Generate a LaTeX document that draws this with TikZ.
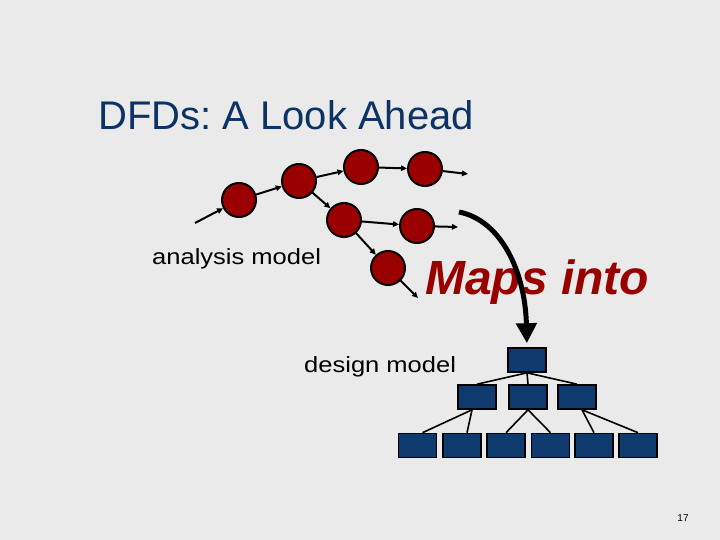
\documentclass[tikz,border=0pt]{standalone}
\usepackage{fontspec}
\setmainfont{Liberation Sans}
\usetikzlibrary{arrows.meta}
\frenchspacing
\definecolor{bgc}{HTML}{EAEAEA}
\definecolor{titleblue}{HTML}{0B3366}
\definecolor{boxblue}{HTML}{0F3A6E}
\definecolor{procred}{HTML}{9A0000}
\definecolor{mapred}{HTML}{990000}
\tikzset{
  proc/.style={circle, draw=black, line width=2bp, fill=procred, minimum size=34bp, inner sep=0pt},
  flow/.style={line width=2bp, -{Triangle[length=6bp,width=5.5bp]}},
  modbox/.style={rectangle, draw=black, line width=1.6bp, fill=boxblue, minimum width=38bp, minimum height=24bp, inner sep=0pt},
  tree/.style={line width=1.6bp},
  lbl/.style={anchor=base west, inner sep=0pt, font=\fontsize{22bp}{26bp}\selectfont}
}
\begin{document}
\begin{tikzpicture}[x=1bp,y=-1bp]
\useasboundingbox (0,0) rectangle (720,540);
\fill[bgc] (0,0) rectangle (720,540);

% title
\node[anchor=base west, inner sep=0pt, text=titleblue, font=\fontsize{40bp}{48bp}\selectfont] (title) at (98,130) {DFDs: A Look Ahead};

% labels
\node[lbl] (ana) at (152,265) {\scalebox{1.16}[1]{analysis model}};
\node[lbl] (des) at (304,372) {\scalebox{1.16}[1]{design model}};

% processes
\node[proc] (c1) at (239,200) {};
\node[proc] (c2) at (299,181) {};
\node[proc] (c3) at (361,167) {};
\node[proc] (c4) at (425,169) {};
\node[proc] (c5) at (344,220) {};
\node[proc] (c6) at (417,226) {};
\node[proc] (c7) at (388,268) {};
\coordinate (in1) at (195,223);
\coordinate (out4) at (468,174);
\coordinate (out6) at (458,227);
\coordinate (out7) at (418,298);

\draw[flow] (in1) -- (c1);
\draw[flow] (c1) -- (c2);
\draw[flow] (c2) -- (c3);
\draw[flow] (c3) -- (c4);
\draw[flow] (c4) -- (out4);
\draw[flow] (c2) -- (c5);
\draw[flow] (c5) -- (c6);
\draw[flow] (c6) -- (out6);
\draw[flow] (c5) -- (c7);
\draw[flow] (c7) -- (out7);

% Maps into
\node[anchor=base west, inner sep=0pt, text=mapred, font=\fontsize{48bp}{55bp}\selectfont\bfseries\itshape] (maps) at (425,294) {Maps into};

% boxes
\node[modbox] (t) at (527,360) {};
\node[modbox] (m1) at (477,397) {};
\node[modbox] (m2) at (528,397) {};
\node[modbox] (m3) at (577,397) {};
\node[modbox] (b1) at (417.5,445.5) {};
\node[modbox] (b2) at (462,445.5) {};
\node[modbox] (b3) at (506,445.5) {};
\node[modbox] (b4) at (550.5,445.5) {};
\node[modbox] (b5) at (594,445.5) {};
\node[modbox] (b6) at (638,445.5) {};

\draw[tree] (t.south) -- (m1.north);
\draw[tree] (t.south) -- (m2.north);
\draw[tree] (t.south) -- (m3.north);
\draw[tree] ([xshift=-5bp]m1.south) -- ([xshift=5bp]b1.north);
\draw[tree] ([xshift=-5bp]m1.south) -- ([xshift=5bp]b2.north);
\draw[tree] (m2.south) -- (b3.north);
\draw[tree] (m2.south) -- (b4.north);
\draw[tree] ([xshift=5bp]m3.south) -- (b5.north);
\draw[tree] ([xshift=5bp]m3.south) -- (b6.north);

% mapping arrow
\coordinate (ms) at (459,212);
\draw[line width=5bp, shorten >=4bp, -{Triangle[length=20bp,width=20bp]}] (ms) .. controls (500,220) and (525,270) .. (t.north);

% page number
\node[font=\fontsize{10bp}{12bp}\selectfont] (pg) at (683,518) {17};
\end{tikzpicture}
\end{document}
